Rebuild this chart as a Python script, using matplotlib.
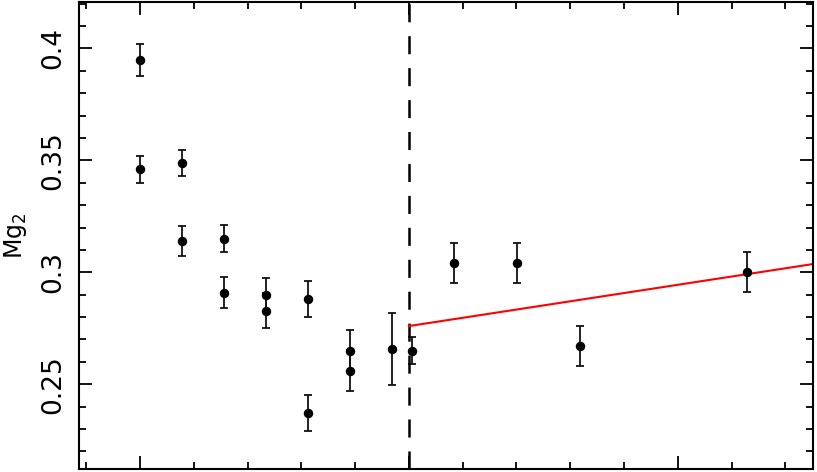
import matplotlib
matplotlib.use("Agg")
import matplotlib.pyplot as plt
import numpy as np
from matplotlib.ticker import MultipleLocator, FuncFormatter

# Data
x_vals = [0.0, 0.0, 0.775, 0.775, 1.56, 1.56, 2.34, 2.34, 3.12, 3.12,
          3.90, 3.90, 4.68, 5.06, 5.84, 7.01, 8.18, 11.29]
mg2 = [0.3948, 0.3460, 0.3490, 0.3140, 0.3149, 0.2909, 0.2900, 0.2829, 0.2879, 0.2370,
       0.2650, 0.2561, 0.2659, 0.2650, 0.3040, 0.3040, 0.2670, 0.3000]
mg2_err = [0.0071, 0.0060, 0.0058, 0.0067, 0.0060, 0.0070, 0.0075, 0.0078, 0.0080, 0.0080,
           0.0091, 0.0090, 0.0161, 0.0059, 0.0089, 0.0089, 0.0090, 0.0090]
break_x = 5.0
fit_at_break = 0.2760
fit_slope = 0.003684
y_ticks = [0.25, 0.30, 0.35, 0.40]

plt.rcParams['lines.scale_dashes'] = False
fig = plt.figure(figsize=(8.17, 4.72), dpi=100)
ax = fig.add_axes([79/817, 1 - 469.3/472, (813.3-79)/817, (469.3-2.3)/472])

ax.errorbar(x_vals, mg2, yerr=mg2_err, fmt='o', color='black', ms=5.8,
            ecolor='#111111', elinewidth=1.3, capsize=3.0, capthick=1.3)

xmin, xmax = -1.135, 12.52
ax.axvline(break_x, color='black', lw=1.8, linestyle=(0, (13, 10)))
fx = np.array([break_x, xmax + 1])
ax.plot(fx, fit_at_break + fit_slope * (fx - break_x), color='red', lw=1.5)

ax.set_xlim(xmin, xmax)
ax.set_ylim(0.21205, 0.42054)

ax.set_yticks(y_ticks)
ax.yaxis.set_major_formatter(FuncFormatter(lambda v, p: '%g' % round(v, 3)))
ax.yaxis.set_minor_locator(MultipleLocator(0.01))
ax.xaxis.set_major_locator(MultipleLocator(5))
ax.xaxis.set_minor_locator(MultipleLocator(1))
ax.tick_params(which='both', direction='in', top=True, right=True, width=1.3, color='black')
ax.tick_params(which='major', length=9.5)
ax.tick_params(which='minor', length=5)
ax.tick_params(axis='x', labelbottom=False)
ax.tick_params(axis='y', pad=9, labelsize=19)
for lab in ax.get_yticklabels():
    lab.set_rotation(90)
    lab.set_va('center')
for s in ax.spines.values():
    s.set_linewidth(1.5)

ax.set_ylabel(r'Mg$_2$', fontsize=17, labelpad=8)

fig.savefig('out.png', dpi=100)
